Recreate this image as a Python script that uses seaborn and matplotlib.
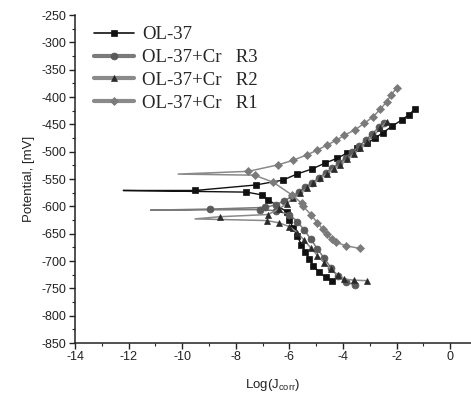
import numpy as np
import pandas as pd
import matplotlib
matplotlib.use("Agg")
import matplotlib.pyplot as plt
import seaborn as sns

# ---- data (log J, potential mV) ----
ol37_logj = [-4.4, -4.65, -4.9, -5.1, -5.25, -5.4, -5.55, -5.7, -5.85, -6.0, -6.1,
             -6.79, -7.03, -7.6, -12.2, -9.52, -7.26, -6.24, -5.72, -5.17, -4.67, -4.21,
             -3.83, -3.47, -3.1, -2.8, -2.5, -2.15, -1.81, -1.55, -1.31]
ol37_pot = [-736, -730, -720, -709, -697, -684, -670, -655, -640, -625, -610,
            -588, -579, -574, -571, -571, -561, -552, -541, -532, -521, -512,
            -502, -494, -485, -475, -465, -453, -442, -433, -422]

r3_logj = [-3.55, -3.9, -4.2, -4.45, -4.7, -4.95, -5.2, -5.45, -5.7, -6.0, -6.5,
           -7.1, -11.18, -8.96, -6.9, -6.5, -6.2, -5.9, -5.65, -5.4, -5.15, -4.9,
           -4.65, -4.4, -4.15, -3.9, -3.65, -3.4, -3.15, -2.9, -2.65, -2.45]
r3_pot = [-744, -738, -728, -712, -695, -678, -660, -643, -628, -615, -608,
          -606, -607, -605, -602, -597, -590, -582, -574, -565, -557, -548,
          -539, -530, -521, -511, -501, -490, -479, -467, -455, -447]

r2_logj = [-3.1, -3.6, -3.95, -4.2, -4.45, -4.7, -4.95, -5.2, -5.45, -5.7, -6.0,
           -6.4, -6.85, -9.52, -8.59, -6.8, -6.4, -6.1, -5.85, -5.6, -5.35, -5.1,
           -4.85, -4.6, -4.35, -4.1, -3.85, -3.6, -3.35, -3.1, -2.85, -2.6, -2.37]
r2_pot = [-736, -735, -733, -725, -715, -703, -690, -676, -662, -648, -637,
          -630, -626, -623, -619, -615, -605, -595, -585, -576, -567, -558,
          -549, -540, -531, -524, -514, -504, -494, -482, -470, -457, -445]

r1_logj = [-3.37, -3.9, -4.24, -4.42, -4.6, -4.75, -4.95, -5.2, -5.48, -5.54,
           -5.91, -6.6, -7.3, -10.15, -7.53, -6.41, -5.88, -5.35, -4.95, -4.6,
           -4.24, -3.95, -3.55, -3.2, -2.87, -2.6, -2.37, -2.2, -2.0]
r1_pot = [-677, -672, -666, -660, -650, -642, -630, -615, -600, -594,
          -579, -556, -543, -541, -536, -524, -516, -506, -497, -488,
          -479, -470, -460, -448, -436, -422, -409, -396, -384]

labels = ["OL-37", "OL-37+Cr   R3", "OL-37+Cr   R2", "OL-37+Cr   R1"]

x_ticks = [-14, -12, -10, -8, -6, -4, -2, 0]
y_ticks = [-850, -800, -750, -700, -650, -600, -550, -500, -450, -400, -350, -300, -250]

# ---- styling ----
sns.set_style("ticks")
plt.rcParams["font.family"] = ["Liberation Sans", "DejaVu Sans"]
plt.rcParams["axes.unicode_minus"] = False
plt.rcParams["mathtext.fontset"] = "custom"
plt.rcParams["mathtext.rm"] = "Liberation Sans"
plt.rcParams["mathtext.it"] = "Liberation Sans"

fig = plt.figure(figsize=(4.71, 3.98), dpi=100)
ax = fig.add_axes([75 / 471, 55 / 398, 1 - 75 / 471, (343 - 15) / 398])

series = [
    (ol37_logj, ol37_pot, labels[0], "#111111", "#111111", "s", 4.6, 1.0),
    (r3_logj, r3_pot, labels[1], "#7a7a7a", "#5a5a5a", "o", 5.0, 1.1),
    (r2_logj, r2_pot, labels[2], "#8a8a8a", "#2a2a2a", "^", 5.0, 1.1),
    (r1_logj, r1_pot, labels[3], "#8a8a8a", "#7a7a7a", "D", 4.2, 1.1),
]

for xs, ys, lab, lc, mc, mk, ms, lw in series:
    df = pd.DataFrame({"logJ": xs, "E": ys})
    tip = int(np.argmin(xs))
    mev = [i for i in range(len(xs)) if i != tip]
    sns.lineplot(data=df, x="logJ", y="E", sort=False, estimator=None, ax=ax,
                 color=lc, lw=lw, marker=mk, markersize=ms,
                 markerfacecolor=mc, markeredgecolor=mc, markeredgewidth=0.5,
                 markevery=mev, label=lab)

ax.set_xlim(-14, 0.78)
ax.set_ylim(-850, -250)
ax.set_xticks(x_ticks)
ax.set_yticks(y_ticks)
ax.set_xticks(np.arange(-13, 0.5, 2), minor=True)
ax.set_yticks(np.arange(-825, -250, 50), minor=True)
ax.tick_params(axis="both", which="major", direction="out", length=4, width=1,
               labelsize=9, colors="#222222", pad=2)
ax.tick_params(axis="both", which="minor", direction="out", length=2.5, width=0.8)
for s in ["top", "right"]:
    ax.spines[s].set_visible(False)
for s in ["left", "bottom"]:
    ax.spines[s].set_linewidth(1.1)
    ax.spines[s].set_color("#222222")

ax.set_ylabel("Potential, [mV]", fontsize=9.5, labelpad=5, color="#222222")
ax.set_xlabel(r"Log(J$_{\mathrm{corr}}$)", fontsize=9.5, labelpad=10, color="#222222")

leg = ax.legend(loc="upper left", bbox_to_anchor=(0.02, 1.0), frameon=False,
                prop={"family": "Liberation Serif", "size": 13.5},
                handlelength=2.1, handletextpad=0.45, labelspacing=0.3,
                borderaxespad=0.2)
for h, w in zip(leg.get_lines(), [1.2, 3.0, 3.0, 3.0]):
    h.set_linewidth(w)

fig.savefig("out.png", dpi=100)
